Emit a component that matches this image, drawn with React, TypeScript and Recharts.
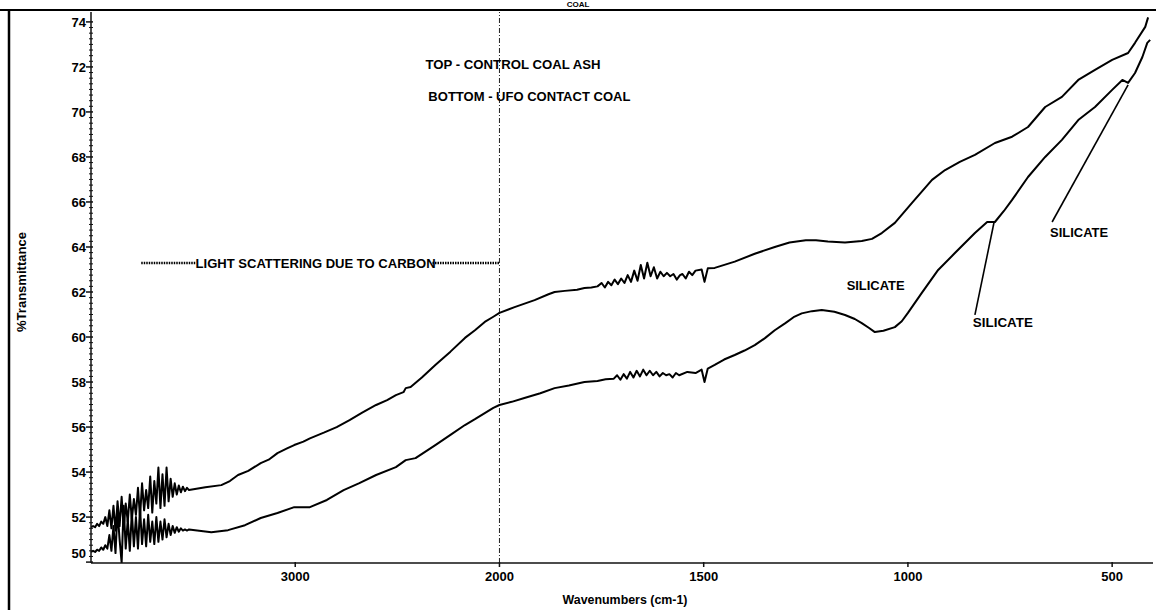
import React from 'react';
import { LineChart, Line, XAxis, YAxis, ReferenceLine, ReferenceDot } from 'recharts';

// ---------- DATA (wavenumber cm-1, %T) ----------
const topWn = [
  4000, 3990, 3980, 3970, 3960, 3950, 3940, 3930, 3920, 3910, 3900, 3890, 3880, 3870, 3860, 3850, 3840,
  3830, 3820, 3810, 3800, 3790, 3780, 3770, 3760, 3750, 3740, 3730, 3720, 3710, 3700, 3690, 3680, 3670,
  3660, 3650, 3640, 3630, 3620, 3610, 3600, 3590, 3580, 3570, 3560, 3550, 3540, 3530, 3520,
  3440, 3362, 3320, 3280, 3230, 3169, 3130, 3087, 3040, 3005, 2960, 2928, 2860, 2797, 2734, 2670, 2604,
  2550, 2507, 2470, 2459, 2435, 2380, 2314, 2240, 2169, 2120, 2072, 2030, 2000, 1963, 1914, 1880, 1865,
  1840, 1810, 1792, 1775,
  1760, 1750, 1742, 1734, 1726, 1718, 1710, 1702, 1694, 1686, 1678, 1670, 1662, 1654, 1646, 1638, 1630,
  1622, 1614, 1606, 1598, 1590, 1582, 1574, 1566, 1558, 1552, 1544, 1536, 1528, 1520,
  1505, 1498, 1490, 1473, 1424, 1375, 1326, 1290, 1250, 1225, 1196, 1154, 1113, 1088, 1064, 1032, 990, 941,
  909, 873, 836, 787, 745, 706, 664, 623, 583, 542, 500, 461, 444, 419, 412,
];
const topT = [
  51.55, 51.6, 51.55, 51.7, 51.6, 51.8, 51.7, 52.0, 51.6, 52.3, 51.5, 52.5, 51.4, 52.7, 51.6, 52.9, 51.5,
  52.6, 51.8, 53.0, 51.9, 52.8, 52.1, 53.3, 52.0, 53.5, 52.3, 53.2, 52.4, 53.8, 52.2, 53.6, 52.6, 54.2,
  52.4, 53.9, 52.5, 54.2, 52.7, 53.7, 52.9, 53.5, 53.0, 53.4, 53.1, 53.35, 53.15, 53.3, 53.2,
  53.33, 53.42, 53.6, 53.87, 54.05, 54.4, 54.55, 54.84, 55.05, 55.2, 55.35, 55.5, 55.75, 56.0, 56.31, 56.65, 56.98,
  57.2, 57.42, 57.55, 57.73, 57.78, 58.2, 58.76, 59.35, 59.96, 60.3, 60.67, 60.9, 61.07, 61.33, 61.64, 61.9, 62.0,
  62.05, 62.1, 62.18, 62.2,
  62.25, 62.4, 62.2, 62.45, 62.3, 62.55, 62.35, 62.6, 62.4, 62.75, 62.45, 62.95, 62.5, 63.2, 62.6, 63.3, 62.7,
  63.1, 62.6, 62.9, 62.7, 62.85, 62.7, 62.8, 62.55, 62.75, 62.8, 62.6, 62.9, 62.75, 62.95,
  63.0, 62.45, 63.05, 63.07, 63.35, 63.7, 64.0, 64.2, 64.3, 64.3, 64.24, 64.2, 64.27, 64.36, 64.62, 65.07, 65.96, 66.98,
  67.42, 67.78, 68.09, 68.62, 68.9, 69.33, 70.22, 70.67, 71.42, 71.87, 72.31, 72.62, 73.07, 73.78, 74.2,
];

const bottomWn = [
  4000, 3990, 3980, 3970, 3960, 3950, 3940, 3930, 3920, 3910, 3900, 3890, 3880, 3870, 3860, 3850, 3840,
  3830, 3820, 3810, 3800, 3790, 3780, 3770, 3760, 3750, 3740, 3730, 3720, 3710, 3700, 3690, 3680, 3670,
  3660, 3650, 3640, 3630, 3620, 3610, 3600, 3590, 3580, 3570, 3560, 3550, 3540, 3530, 3520,
  3411, 3329, 3246, 3169, 3087, 3005, 2928, 2845, 2763, 2686, 2604, 2507, 2459, 2411, 2314, 2240, 2169,
  2120, 2072, 2030, 2000, 1970, 1939, 1900, 1865, 1830, 1792, 1760, 1740,
  1720, 1712, 1704, 1696, 1688, 1680, 1672, 1664, 1656, 1648, 1640, 1632, 1624, 1616, 1608, 1600, 1592,
  1584, 1576, 1568, 1560, 1540, 1520, 1505, 1498, 1490,
  1473, 1450, 1424, 1400, 1375, 1350, 1326, 1300, 1280, 1260, 1235, 1211, 1180, 1154, 1130, 1113, 1095, 1081,
  1060, 1032, 1015, 1000, 966, 926, 885, 836, 806, 787, 765, 745, 706, 664, 623, 583, 542, 500, 475, 461,
  444, 426, 414, 407,
];
const bottomT = [
  50.45, 50.5, 50.45, 50.55, 50.5, 50.65, 50.55, 50.75, 50.6, 51.2, 50.5, 51.6, 50.4, 52.3, 51.0, 49.97, 52.5,
  50.6, 51.9, 50.5, 52.2, 50.7, 52.0, 50.6, 52.4, 50.8, 51.9, 50.7, 52.1, 50.9, 51.8, 50.8, 52.0, 50.9,
  51.8, 51.0, 51.9, 51.1, 51.7, 51.2, 51.6, 51.3, 51.55, 51.35, 51.5, 51.4, 51.45, 51.4, 51.45,
  51.33, 51.42, 51.64, 51.96, 52.18, 52.44, 52.44, 52.76, 53.2, 53.51, 53.87, 54.22, 54.53, 54.62, 55.2, 55.65, 56.09,
  56.35, 56.62, 56.85, 56.98, 57.12, 57.29, 57.5, 57.73, 57.85, 58.0, 58.05, 58.12,
  58.15, 58.3, 58.1, 58.35, 58.15, 58.45, 58.2, 58.5, 58.25, 58.55, 58.3, 58.5, 58.3, 58.45, 58.25, 58.4, 58.3,
  58.35, 58.2, 58.4, 58.3, 58.45, 58.4, 58.55, 58.0, 58.6,
  58.76, 59.0, 59.2, 59.4, 59.64, 59.95, 60.3, 60.62, 60.88, 61.05, 61.15, 61.2, 61.12, 60.98, 60.8, 60.62, 60.4, 60.22,
  60.28, 60.44, 60.7, 61.07, 61.96, 62.98, 63.73, 64.62, 65.11, 65.11, 65.6, 66.09, 67.11, 68.0, 68.76, 69.64, 70.22, 70.98, 71.42, 71.29,
  71.73, 72.44, 73.07, 73.2,
];

const xTickWn = [3000, 2000, 1500, 1000, 500];
const yTicks = [50, 52, 54, 56, 58, 60, 62, 64, 66, 68, 70, 72, 74];

const noteText = [
  'TOP - CONTROL COAL ASH',
  'BOTTOM - UFO CONTACT COAL',
  'LIGHT SCATTERING DUE TO CARBON',
  'SILICATE',
  'SILICATE',
  'SILICATE',
];
const noteWn = [2362, 2348, 3488, 1150, 841, 652];
const noteT = [72.09, 70.67, 63.25, 62.31, 60.67, 64.67];

const leaderWn = [[836, 789], [647, 461]];
const leaderT = [[60.98, 65.11], [65.11, 71.2]];

const bracketWn = [[3754, 3488], [2328, 2000]];
const bracketT = 63.29;

// ---------- helpers: the spectrometer axis is compressed 2:1 above 2000 cm-1 ----------
const toU = (wn: number) => (wn > 2000 ? 2000 + (wn - 2000) / 2 : wn);
const fromU = (u: number) => Math.round(u > 2000 ? 2000 + (u - 2000) * 2 : u);

const topData = topWn.map((w, i) => ({ u: toU(w), t: topT[i] }));
const bottomData = bottomWn.map((w, i) => ({ u: toU(w), t: bottomT[i] }));

const yMinor: number[] = [];
for (let v = 50; v <= 74.001; v += 0.25) yMinor.push(Math.round(v * 100) / 100);

const FONT = '"Liberation Sans", Arial, Helvetica, sans-serif';
const noteSize = [12, 12, 12, 13, 13, 13];
const noteWidth = [175, 202, 240, 58, 60, 58];

function YTick(props: any) {
  const { x, y, payload } = props;
  const v = Number(payload.value);
  const major = yTicks.indexOf(v) >= 0;
  return (
    <g>
      <line x1={major ? x - 5 : x - 2} x2={x + 2} y1={y} y2={y} stroke="#111" strokeWidth={major ? 1.5 : 1} />
      {major && (
        <text
          x={x - 5}
          y={v === 50 ? y - 9 : y}
          dy="0.36em"
          textAnchor="end"
          fontFamily={FONT}
          fontWeight="bold"
          fontSize={13}
          fill="#000"
        >
          {v}
        </text>
      )}
    </g>
  );
}

function XTick(props: any) {
  const { x, y, payload } = props;
  return (
    <g>
      <line x1={x} x2={x} y1={y - 1} y2={y + 4} stroke="#111" strokeWidth={1.5} />
      <text x={x} y={y + 18} textAnchor="middle" fontFamily={FONT} fontWeight="bold" fontSize={13} fill="#000">
        {fromU(payload.value)}
      </text>
    </g>
  );
}

export default function App() {
  return (
    <div style={{ position: 'absolute', left: 0, top: 0, width: 1156, height: 610, background: '#fff' }}>
      <LineChart width={1156} height={610} margin={{ top: 12, right: 3, bottom: 17, left: 0 }}>
        <XAxis
          type="number"
          dataKey="u"
          domain={[400, 3000]}
          reversed
          allowDataOverflow
          ticks={xTickWn.map(toU)}
          interval={0}
          height={30}
          tickSize={0}
          tickMargin={0}
          tickLine={false}
          axisLine={{ stroke: '#111', strokeWidth: 1.3 }}
          tick={(p: any) => <XTick {...p} />}
        />
        <YAxis
          type="number"
          domain={[49.96, 74.44]}
          allowDataOverflow
          ticks={yMinor}
          interval={0}
          width={91}
          tickSize={0}
          tickMargin={0}
          tickLine={false}
          axisLine={{ stroke: '#111', strokeWidth: 1.5 }}
          tick={(p: any) => <YTick {...p} />}
        />
        <ReferenceLine x={2000} stroke="#222" strokeWidth={1} strokeDasharray="5 2 1 2" />
        {bracketWn.map((pair, i) => (
          <ReferenceLine
            key={'b' + i}
            segment={[
              { x: toU(pair[0]), y: bracketT },
              { x: toU(pair[1]), y: bracketT },
            ]}
            stroke="#000"
            strokeWidth={2.5}
            strokeDasharray="1.5 1"
          />
        ))}
        {leaderWn.map((pair, i) => (
          <ReferenceLine
            key={'l' + i}
            segment={[
              { x: toU(pair[0]), y: leaderT[i][0] },
              { x: toU(pair[1]), y: leaderT[i][1] },
            ]}
            stroke="#000"
            strokeWidth={1.6}
          />
        ))}
        <Line
          data={topData}
          dataKey="t"
          type="linear"
          dot={false}
          stroke="#000"
          strokeWidth={2}
          strokeLinejoin="round"
          isAnimationActive={false}
        />
        <Line
          data={bottomData}
          dataKey="t"
          type="linear"
          dot={false}
          stroke="#000"
          strokeWidth={2}
          strokeLinejoin="round"
          isAnimationActive={false}
        />
        {noteText.map((txt, i) => (
          <ReferenceDot
            key={'n' + i}
            x={toU(noteWn[i])}
            y={noteT[i]}
            r={0}
            ifOverflow="visible"
            shape={(p: any) => (
              <text
                x={p.cx}
                y={p.cy}
                dy="0.36em"
                textAnchor="start"
                fontFamily={FONT}
                fontWeight="bold"
                fontSize={noteSize[i]}
                textLength={noteWidth[i]}
                lengthAdjust="spacingAndGlyphs"
                fill="#000"
              >
                {txt}
              </text>
            )}
          />
        ))}
      </LineChart>
      <svg
        width={1156}
        height={610}
        style={{ position: 'absolute', left: 0, top: 0, pointerEvents: 'none' }}
      >
        <line x1={0} x2={1156} y1={10} y2={10} stroke="#000" strokeWidth={2} />
        <line x1={9} x2={9} y1={9} y2={610} stroke="#000" strokeWidth={2.5} />
        <text x={578} y={7} textAnchor="middle" fontFamily={FONT} fontWeight="bold" fontSize={8} fill="#000">
          COAL
        </text>
        <text
          x={22}
          y={282}
          transform="rotate(-90 22 282)"
          textAnchor="middle"
          dy="0.36em"
          fontFamily={FONT}
          fontWeight="bold"
          fontSize={12}
          textLength={100}
          lengthAdjust="spacingAndGlyphs"
          fill="#000"
        >
          %Transmittance
        </text>
        <text
          x={625}
          y={600}
          textAnchor="middle"
          dy="0.36em"
          fontFamily={FONT}
          fontWeight="bold"
          fontSize={12}
          textLength={125}
          lengthAdjust="spacingAndGlyphs"
          fill="#000"
        >
          Wavenumbers (cm-1)
        </text>
      </svg>
    </div>
  );
}
